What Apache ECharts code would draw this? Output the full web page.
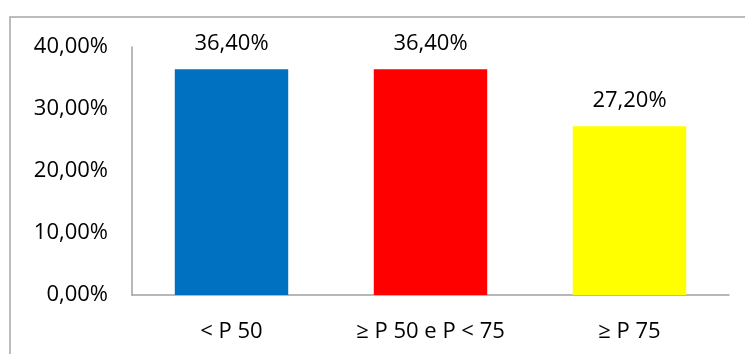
<!DOCTYPE html>
<html>
<head>
<meta charset="utf-8">
<script src="https://cdn.jsdelivr.net/npm/echarts@6/dist/echarts.min.js"></script>
<style>
  html, body { margin: 0; padding: 0; background: #fff; }
  #chart { width: 745px; height: 354px; }
</style>
</head>
<body>
<div id="chart"></div>
<script>
// Share of cases per percentile band
const categories = ['< P 50', '≥ P 50 e P < 75', '≥ P 75'];
const values = [36.4, 36.4, 27.2];
const barColors = ['#0070C0', '#FF0000', '#FFFF00'];
const yTicks = { min: 0, max: 40, interval: 10 };

const FONT = '"Open Sans", sans-serif';
const pct = v => v.toFixed(2).replace('.', ',') + '%';

const chart = echarts.init(document.getElementById('chart'));
chart.setOption({
  animation: false,
  backgroundColor: '#ffffff',
  graphic: [{
    type: 'rect',
    shape: { x: 10, y: 17, width: 800, height: 400 },
    style: { fill: 'none', stroke: '#a6a6a6', lineWidth: 1.5 },
    silent: true
  }],
  grid: { left: 132, right: 16, top: 47, bottom: 59, containLabel: false },
  xAxis: {
    type: 'category',
    data: categories,
    axisLine: { lineStyle: { color: '#a0a0a0', width: 1.5 } },
    axisTick: { show: false },
    axisLabel: { color: '#000', fontFamily: FONT, fontSize: 22, margin: 26 }
  },
  yAxis: {
    type: 'value',
    min: yTicks.min,
    max: yTicks.max,
    interval: yTicks.interval,
    axisLine: { show: true, lineStyle: { color: '#a0a0a0', width: 1.5 } },
    axisTick: { show: false },
    splitLine: { show: false },
    axisLabel: { color: '#000', fontFamily: FONT, fontSize: 22, margin: 24, formatter: v => pct(v) }
  },
  series: [{
    type: 'bar',
    barWidth: '57%',
    data: values.map((v, i) => ({ value: v, itemStyle: { color: barColors[i] } })),
    label: {
      show: true,
      position: 'top',
      distance: 15,
      color: '#000',
      fontFamily: FONT,
      fontSize: 22,
      formatter: p => pct(p.value)
    }
  }]
});
</script>
</body>
</html>
